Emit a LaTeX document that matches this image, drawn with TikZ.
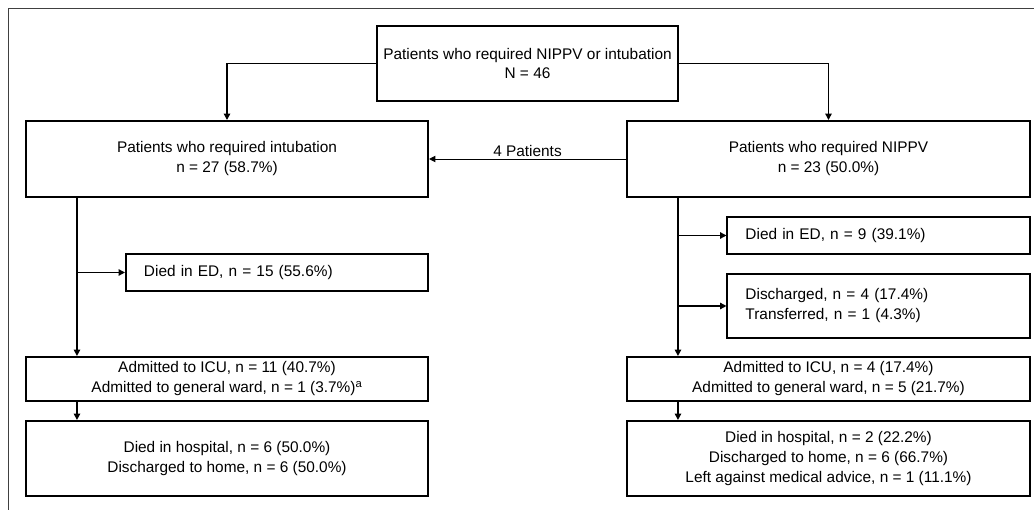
\documentclass[tikz,border=0pt]{standalone}
\usepackage{fontspec}
\setmainfont{Liberation Sans}
\usetikzlibrary{arrows.meta}

\begin{document}
\begin{tikzpicture}[x=0.025cm,y=-0.025cm,>={Triangle[length=4.5pt,width=4.5pt]},
        font=\fontsize{10.95}{14.2}\selectfont,
        box/.style={draw,line width=1.4pt,align=center,inner sep=0pt},
        sidebox/.style={box,align=left,inner xsep=0.45cm,text width=6.65cm},
        flow/.style={->,line width=1pt}]
        \useasboundingbox (0,0) rectangle (1034,510);
        % frame
        \draw[gray!50!black,line width=.6pt] (1034,8) -- (8,8) -- (8,510);
        % boxes
        \node[box,minimum width=7.525cm,minimum height=1.875cm] (all) at (527.5,63.5)
              {Patients who required NIPPV or intubation\\N = 46};
        \node[box,minimum width=10.05cm,minimum height=1.9cm] (intub) at (227,159)
              {Patients who required intubation\\n = 27 (58.7\%)};
        \node[box,minimum width=10.075cm,minimum height=1.9cm] (nippv) at (828.5,159)
              {Patients who required NIPPV\\n = 23 (50.0\%)};
        % left column
        \node[sidebox,minimum height=0.925cm] (ledd) at (277,272.5)
              {Died in ED, n = 15 (55.6\%)};
        \node[box,minimum width=10.05cm,minimum height=1.1cm] (ladm) at (227,379)
              {Admitted to ICU, n = 11 (40.7\%)\\Admitted to general ward, n = 1 (3.7\%)\textsuperscript{a}};
        \node[box,minimum width=10.05cm,minimum height=1.875cm] (lhosp) at (227,458.5)
              {Died in hospital, n = 6 (50.0\%)\\Discharged to home, n = 6 (50.0\%)};
        % right column
        \node[sidebox,minimum height=0.925cm] (redd) at (878.5,235.5)
              {Died in ED, n = 9 (39.1\%)};
        \node[sidebox,minimum height=1.6cm] (rdis) at (878.5,306)
              {Discharged, n = 4 (17.4\%)\\Transferred, n = 1 (4.3\%)};
        \node[box,minimum width=10.075cm,minimum height=1.1cm] (radm) at (828.5,379)
              {Admitted to ICU, n = 4 (17.4\%)\\Admitted to general ward, n = 5 (21.7\%)};
        \node[box,minimum width=10.075cm,minimum height=1.875cm] (rhosp) at (828.5,458.5)
              {Died in hospital, n = 2 (22.2\%)\\Discharged to home, n = 6 (66.7\%)\\Left against medical advice, n = 1 (11.1\%)};

        % split at the top
        \draw[flow] (all.west) -| (intub.north);
        \draw[flow] (all.east) -| (nippv.north);
        \draw[->,line width=.6pt] (nippv.west) -- node[above,inner sep=1.5pt] (moved) {4 Patients} (intub.east);

        % spines
        \coordinate (lspine) at ([xshift=1.3cm]intub.south west);
        \coordinate (rspine) at ([xshift=1.3cm]nippv.south west);
        \draw[flow] (lspine) -- (lspine |- ladm.north);
        \draw[flow] (rspine) -- (rspine |- radm.north);
        \draw[flow] (lspine |- ledd.west) -- (ledd.west);
        \foreach \b in {redd,rdis} \draw[flow] (rspine |- \b.west) -- (\b.west);
        \foreach \s/\t in {ladm/lhosp,radm/rhosp}
          \draw[flow] ([xshift=1.3cm]\s.south west) -- ([xshift=1.3cm]\t.north west);
      \end{tikzpicture}
\end{document}
